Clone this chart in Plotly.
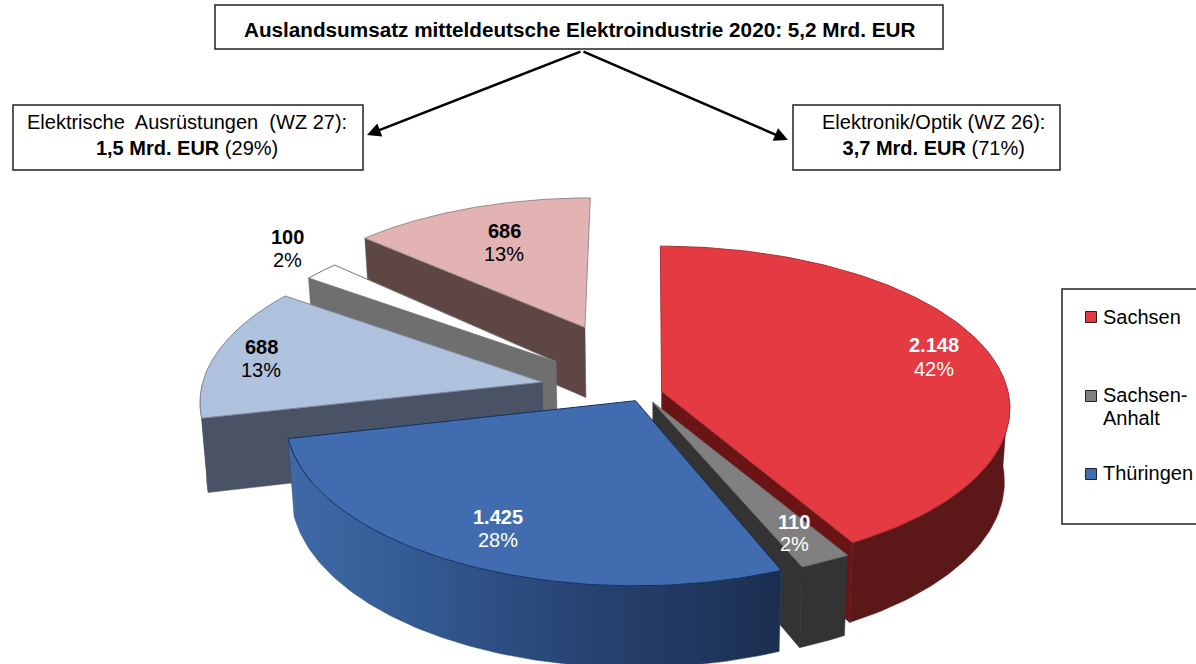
import numpy as np
import plotly.graph_objects as go

# ---- data ----
regions = ["Sachsen", "Sachsen-Anhalt", "Thüringen", "Thüringen (WZ 27)", "Sachsen-Anhalt (WZ 27)", "Sachsen (WZ 27)"]
values = [2148, 110, 1425, 688, 100, 686]
legend_names = ["Sachsen", "Sachsen-", "Anhalt", "Thüringen"]
legend_text_y = [317, 395, 418, 473]
legend_mark_y = [317, 396, None, 474]
legend_mark_idx = [0, 1, None, 2]

# ---- style ----
explode = [0.04, 0.05, 0.04, 0.29, 0.33, 0.46]
rx_scale = [0.985, 1.0, 0.985, 0.97, 0.945, 0.948]
ry_scale = [1.0, 1.0, 1.03, 1.0, 1.0, 0.96]
lift = [-2, 0, 0, -4, -1, -3]
shift = [3, 0, -3, -3, 0, 3]
top_colors = ["#e53a41", "#808080", "#416db0", "#aec2de", "#ffffff", "#e3b3b3"]
line_colors = ["#a83035", "#707070", "#12305f", "#7f8795", "#777777", "#9a8a8a"]
cut_colors = ["#6a1416", "#333333", "#1c3054", "#4a5266", "#6e6f6e", "#5e4645"]
rim_colors = ["#5c1819", "#333333", None, "#4a5266", "#6e6f6e", "#5e4645"]
draw_order = [5, 4, 3, 0, 1, 2]
label_x = [934, 794, 498, 261, 287, 504]
label_y1 = [345, 522, 517, 347, 237, 231]
label_y2 = [369, 544, 540, 370, 260, 254]
label_colors = ["white", "white", "white", "black", "black", "black"]
FONT = "Liberation Sans, Arial, sans-serif"

CX, CY, AX, AY, K, DEPTH, SHRINK = 645, 395, 352, 160, 0.1, 73, 0.015


def project(X, Y, dx=0, dy=0, low=False):
    w = 1 + K * Y
    x = CX + AX * X / w
    y = CY - AY * Y / w + dy
    if low:
        x = CX + (x - CX) * (1 - SHRINK)
        y = y + DEPTH / w
    return x + dx, y


total = sum(values)
edges = np.cumsum([0] + values) / total * 2 * np.pi

fig = go.Figure()


def poly(x, y, color, line=None, gradient=None):
    x, y = list(x), list(y)
    kw = dict(x=x + [x[0]], y=y + [y[0]], mode="lines", fill="toself",
              hoverinfo="skip", showlegend=False,
              line=dict(color=line or color, width=1 if line else 0.5))
    if gradient:
        kw["fillgradient"] = gradient
    else:
        kw["fillcolor"] = color
    fig.add_trace(go.Scatter(**kw))


blue_gradient = dict(type="horizontal", start=285, stop=782,
                     colorscale=[[0, "#3f6aa8"], [0.35, "#30548a"], [0.65, "#26406e"], [1, "#1b2e50"]])

for i in draw_order:
    t0, t1 = edges[i], edges[i + 1]
    mid = (t0 + t1) / 2
    X0, Y0 = explode[i] * np.sin(mid), explode[i] * np.cos(mid)
    t = np.linspace(t0, t1, 120)
    Xs = X0 + rx_scale[i] * np.sin(t)
    Ys = Y0 + ry_scale[i] * np.cos(t)
    ax_top, ay_top = project(X0, Y0, shift[i], lift[i])
    ax_low, ay_low = project(X0, Y0, shift[i], lift[i], True)
    tx, ty = project(Xs, Ys, shift[i], lift[i])
    lx, ly = project(Xs, Ys, shift[i], lift[i], True)
    # cut faces that look toward the viewer
    if np.sin(t0) < -1e-6:
        poly([ax_top, tx[0], lx[0], ax_low], [ay_top, ty[0], ly[0], ay_low], cut_colors[i])
    if np.sin(t1) > 1e-6:
        poly([ax_top, tx[-1], lx[-1], ax_low], [ay_top, ty[-1], ly[-1], ay_low], cut_colors[i])
    # rim, front part only
    front = np.cos(t) < 0
    if front.sum() > 1:
        rx = list(tx[front]) + list(lx[front][::-1])
        ry = list(ty[front]) + list(ly[front][::-1])
        if rim_colors[i] is None:
            poly(rx, ry, "#2c4a7c", gradient=blue_gradient)
        else:
            poly(rx, ry, rim_colors[i])
    # top face
    poly([ax_top] + list(tx), [ay_top] + list(ty), top_colors[i], line=line_colors[i])


def fmt(v):
    return f"{v:,}".replace(",", ".")


annotations = []
for v, lx_, y1_, y2_, c in zip(values, label_x, label_y1, label_y2, label_colors):
    annotations.append(dict(x=lx_, y=y1_, xref="x", yref="y", showarrow=False,
                            text=f"<b>{fmt(v)}</b>", font=dict(family=FONT, size=20, color=c)))
    annotations.append(dict(x=lx_, y=y2_, xref="x", yref="y", showarrow=False,
                            text=f"{round(v / total * 100)}%", font=dict(family=FONT, size=20, color=c)))

boxes = [
    (215, 5, 943, 49, 579.5, 29, 20.7, "<b>Auslandsumsatz mitteldeutsche Elektroindustrie 2020: 5,2 Mrd. EUR</b>"),
    (13, 105, 363, 170, 187, 135, 20, "Elektrische  Ausrüstungen  (WZ 27):<br><b>1,5 Mrd. EUR</b> (29%)"),
    (793, 105, 1060, 170, 933, 135, 20, "Elektronik/Optik (WZ 26):<br><b>3,7 Mrd. EUR</b> (71%)"),
]
shapes = []
for x0, y0, x1, y1, tx_, ty_, fs, txt in boxes:
    shapes.append(dict(type="rect", x0=x0, y0=y0, x1=x1, y1=y1, xref="x", yref="y",
                       line=dict(color="#222222", width=1.5), fillcolor="white"))
    annotations.append(dict(x=tx_, y=ty_, xref="x", yref="y", showarrow=False,
                            text=txt, font=dict(family=FONT, size=fs, color="black")))
shapes.append(dict(type="rect", x0=1062, y0=289, x1=1240, y1=524, xref="x", yref="y",
                   line=dict(color="#222222", width=1.5), fillcolor="rgba(0,0,0,0)"))

for tip in [(367, 135), (788, 140)]:
    annotations.append(dict(x=tip[0], y=tip[1], ax=582, ay=51, xref="x", yref="y", axref="x", ayref="y",
                            showarrow=True, arrowhead=2, arrowsize=1.1, arrowwidth=2.5, arrowcolor="black", text=""))

for name, ty_, my, idx in zip(legend_names, legend_text_y, legend_mark_y, legend_mark_idx):
    if idx is not None:
        fig.add_trace(go.Scatter(x=[1091], y=[my], mode="markers", hoverinfo="skip", showlegend=False,
                                 marker=dict(symbol="square", size=11, color=top_colors[idx],
                                             line=dict(color="#222222", width=1))))
    annotations.append(dict(x=1101, y=ty_, xref="x", yref="y", xanchor="left", showarrow=False, align="left",
                            text=name, font=dict(family=FONT, size=20, color="black")))

fig.update_layout(
    width=1196, height=664, margin=dict(l=0, r=0, t=0, b=0),
    paper_bgcolor="white", plot_bgcolor="white", showlegend=False,
    xaxis=dict(range=[0, 1196], visible=False, fixedrange=True),
    yaxis=dict(range=[664, 0], visible=False, fixedrange=True),
    shapes=shapes, annotations=annotations,
)
fig.write_html("out.html", config={"displayModeBar": False},
               post_script="document.body.style.margin='0';document.documentElement.style.overflow='hidden';")
